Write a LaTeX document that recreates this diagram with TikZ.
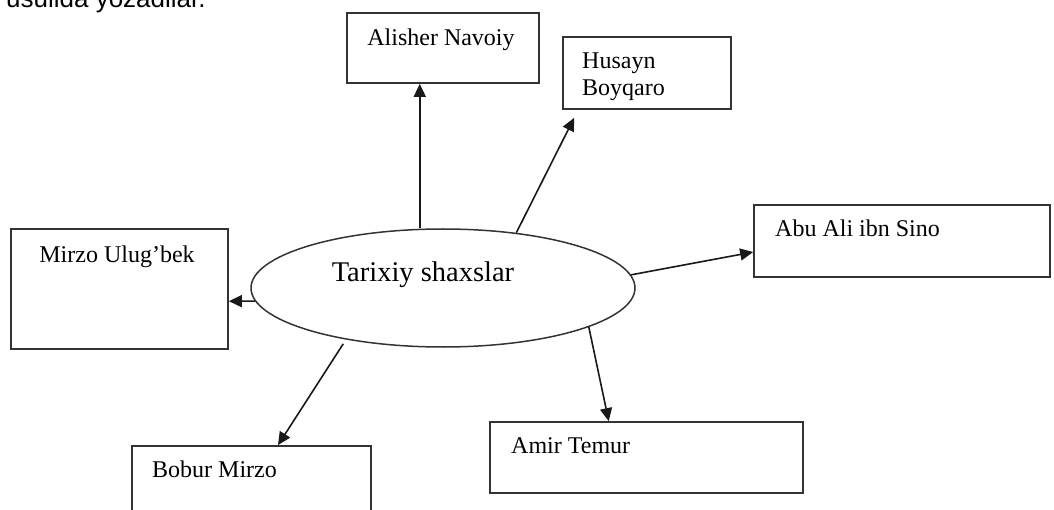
\documentclass[tikz,border=0pt]{standalone}
\usepackage{fontspec}
\setmainfont{Liberation Serif}
\newfontfamily\arialfont{Liberation Sans}
\usetikzlibrary{shapes.geometric,arrows.meta,calc}
\begin{document}
\begin{tikzpicture}[x=1pt,y=-1pt,
  boxnode/.style={draw=black!80,line width=1.7pt,rectangle,inner sep=0pt},
  lbl/.style={font=\fontsize{24}{27}\selectfont,inner sep=0pt},
  conn/.style={line width=1.6pt,draw=black!90,-{Triangle[length=13pt,width=12pt]}}]
\useasboundingbox (0,0) rectangle (1054,510);
\fill[white] (0,0) rectangle (1054,510);
% top text (cropped at the top edge, as in the reference)
\node[anchor=base west,inner sep=0pt,font=\arialfont\fontsize{26}{30}\selectfont] (top) at (6,8) {usulida yozadilar.};
% central ellipse
\node[draw=black!80,line width=1.5pt,ellipse,minimum width=384pt,minimum height=118pt,inner sep=0pt] (ell) at (443,288) {};
\node[font=\fontsize{28.5}{32}\selectfont,inner sep=0pt] (elltxt) at (423,275) {Tarixiy shaxslar};
% boxes
\node[boxnode,minimum width=192pt,minimum height=70pt] (nav) at (443,48) {};
\node[lbl] (navtxt) at (441,40) {Alisher Navoiy};
\node[boxnode,minimum width=168pt,minimum height=72pt] (hus) at (647,73) {};
\node[lbl,anchor=west] (hustxt1) at (582,63) {Husayn};
\node[lbl,anchor=west] (hustxt2) at (582,90) {Boyqaro};
\node[boxnode,minimum width=296pt,minimum height=72pt] (abu) at (902,241) {};
\node[lbl,anchor=west] (abutxt) at (775,228) {Abu Ali ibn Sino};
\node[boxnode,minimum width=217pt,minimum height=120pt] (ulug) at (119.5,289) {};
\node[lbl] (ulugtxt) at (117,257) {Mirzo Ulug’bek};
\node[boxnode,minimum width=239pt,minimum height=100pt] (bob) at (251.5,496) {};
\node[lbl,anchor=west] (bobtxt) at (152,469) {Bobur Mirzo};
\node[boxnode,minimum width=313pt,minimum height=71pt] (amir) at (646.5,457.5) {};
\node[lbl,anchor=west] (amirtxt) at (511,446) {Amir Temur};
% connectors
\coordinate (husend) at ($(hus.south west)+(12,8)$);
\draw[conn] (ell.north -| {$(nav.south west)!0.38!(nav.south east)$}) -- ($(nav.south west)!0.38!(nav.south east)$);
\draw[conn] (ell.37) -- (husend);
\draw[conn] (ell.4) -- ($(abu.north west)!0.65!(abu.south west)$);
\draw[conn] (ell.184) -- ($(ulug.north east)!0.6!(ulug.south east)$);
\draw[conn,shorten <=5pt] (ell.208) -- ($(bob.north west)!0.61!(bob.north east)$);
\draw[conn] (ell.-15) -- ($(amir.north west)!0.38!(amir.north east)$);
\end{tikzpicture}
\end{document}
